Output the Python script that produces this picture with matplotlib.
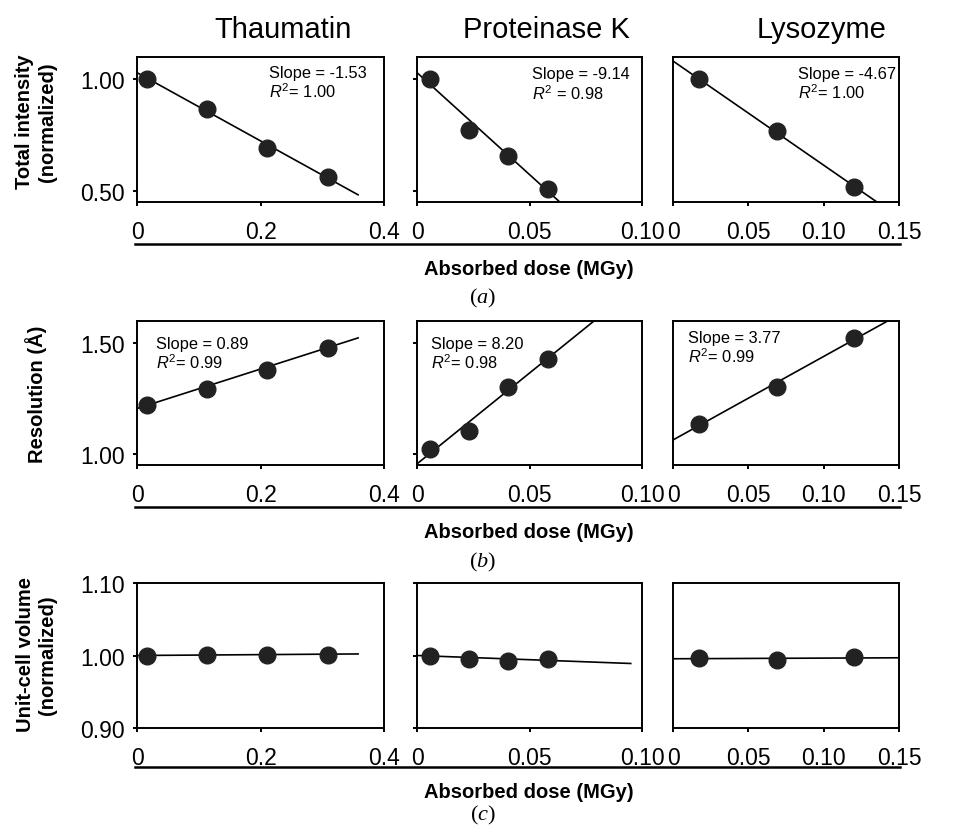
import matplotlib
matplotlib.use('Agg')
import matplotlib.pyplot as plt
from matplotlib.lines import Line2D
from matplotlib.ticker import FormatStrFormatter

plt.rcParams['font.family'] = ['Liberation Sans', 'DejaVu Sans']
plt.rcParams['mathtext.fontset'] = 'custom'
plt.rcParams['mathtext.rm'] = 'Liberation Sans'
plt.rcParams['mathtext.it'] = 'Liberation Sans:italic'
plt.rcParams['mathtext.sf'] = 'Liberation Serif:italic'

# data
proteins = ['Thaumatin', 'Proteinase K', 'Lysozyme']

dose_thaumatin = [0.016, 0.114, 0.211, 0.309]
dose_protk = [0.0058, 0.0232, 0.0406, 0.0584]
dose_lysozyme = [0.0173, 0.0688, 0.1203]

intensity_thaumatin = [1.00, 0.865, 0.692, 0.560]
intensity_protk = [1.00, 0.775, 0.658, 0.509]
intensity_lysozyme = [1.00, 0.767, 0.519]

resolution_thaumatin = [1.219, 1.291, 1.380, 1.478]
resolution_protk = [1.022, 1.102, 1.300, 1.430]
resolution_lysozyme = [1.134, 1.303, 1.522]

volume_thaumatin = [1.000, 1.001, 1.001, 1.001]
volume_protk = [1.000, 0.9945, 0.992, 0.9955]
volume_lysozyme = [0.9964, 0.9936, 0.9978]

# linear fits
intensity_slope = [-1.53, -9.14, -4.67]
intensity_icpt = [1.03, 1.03, 1.082]
intensity_r2 = ['1.00', '0.98', '1.00']

resolution_slope = [0.89, 8.20, 3.77]
resolution_icpt = [1.205, 0.955, 1.063]
resolution_r2 = ['0.99', '0.98', '0.99']

volume_slope = [0.006, -0.116, 0.009]
volume_icpt = [1.000, 1.000, 0.9955]

fit_end = [0.358, 0.095, 0.15]

xticks = [[0, 0.2, 0.4], [0, 0.05, 0.10], [0, 0.05, 0.10, 0.15]]
xticklabels = [['0', '0.2', '0.4'], ['0', '0.05', '0.10'], ['0', '0.05', '0.10', '0.15']]
xmax = [0.4, 0.10, 0.15]

doses = [dose_thaumatin, dose_protk, dose_lysozyme]
rows = [
  dict(y=[intensity_thaumatin, intensity_protk, intensity_lysozyme],
       slope=intensity_slope, icpt=intensity_icpt, r2=intensity_r2,
       ylim=(0.45, 1.10), yticks=[0.50, 1.00],
       ylabel='Total intensity\n(normalized)', tag='a'),
  dict(y=[resolution_thaumatin, resolution_protk, resolution_lysozyme],
       slope=resolution_slope, icpt=resolution_icpt, r2=resolution_r2,
       ylim=(0.95, 1.60), yticks=[1.00, 1.50],
       ylabel='Resolution (Å)', tag='b'),
  dict(y=[volume_thaumatin, volume_protk, volume_lysozyme],
       slope=volume_slope, icpt=volume_icpt, r2=None,
       ylim=(0.90, 1.10), yticks=[0.90, 1.00, 1.10],
       ylabel='Unit-cell volume\n(normalized)', tag='c'),
]

W, H = 971, 829
fig = plt.figure(figsize=(W/100, H/100), dpi=100)

col_left = [137, 417, 673]
col_right = [384, 642, 899]
row_top = [58, 322, 584]
row_bot = [203, 466, 729]
# annotation positions (axes fraction) for rows a and b
note_pos = [[(0.534, 0.945), (0.51, 0.935), (0.552, 0.94)],
            [(0.077, 0.895), (0.062, 0.895), (0.068, 0.94)]]

for r, row in enumerate(rows):
  for c in range(3):
    l, rr = col_left[c], col_right[c]
    t, b = row_top[r], row_bot[r]
    ax = fig.add_axes([l/W, 1 - b/H, (rr - l)/W, (b - t)/H])
    x = doses[c]
    xf = [0, fit_end[c]]
    yf = [row['icpt'][c] + row['slope'][c]*v for v in xf]
    ax.plot(xf, yf, '-', color='k', lw=1.2, zorder=2)
    ax.plot(x, row['y'][c], 'o', color='#222222', ms=12, mec='#222222', zorder=3)
    ax.set_xlim(0, xmax[c])
    ax.set_ylim(*row['ylim'])
    ax.set_xticks(xticks[c])
    ax.set_xticklabels(xticklabels[c])
    for s in ax.spines.values():
      s.set_linewidth(1.4)
    ax.tick_params(axis='x', direction='out', length=3, width=1.4, pad=10, labelsize=16.5)
    if c == 0:
      ax.set_yticks(row['yticks'])
      ax.yaxis.set_major_formatter(FormatStrFormatter('%.2f'))
      ax.tick_params(axis='y', direction='out', length=3, width=1.4, pad=6, labelsize=16.5)
    elif c == 1:
      ax.set_yticks(row['yticks'])
      ax.set_yticklabels([])
      ax.tick_params(axis='y', direction='out', length=3, width=1.4)
    else:
      ax.set_yticks([])
    if row['r2'] is not None:
      px, py = note_pos[r][c]
      sl = row['slope'][c]
      ax.text(px, py, 'Slope = %.2f' % sl, transform=ax.transAxes,
              fontsize=11.8, va='top', ha='left')
      sep = ' ' if (r == 0 and c == 1) else ''
      ax.text(px, py - 0.115, r'$R^2$' + sep + '= ' + row['r2'][c],
              transform=ax.transAxes, fontsize=11.8, va='top', ha='left')

  # rule under the tick labels, x label and panel tag
  yl = [245, 508, 768][r]
  fig.add_artist(Line2D([135/W, 900/W], [1 - yl/H, 1 - yl/H], color='k', lw=1.8))
  fig.text(529/W, 1 - [270, 533, 793][r]/H, 'Absorbed dose (MGy)',
           fontsize=14.5, fontweight='bold', ha='center', va='center')
  fig.text(483/W, 1 - [298, 562, 815][r]/H, '($\\mathsf{%s}$)' % row['tag'],
           fontsize=16, family='Liberation Serif', ha='center', va='center')
  fig.text(36/W, 1 - [122, 394, 655][r]/H, row['ylabel'], rotation=90,
           fontsize=14.5, fontweight='bold', ha='center', va='center',
           multialignment='center')

for name, xc in zip(proteins, [283, 546, 822]):
  fig.text(xc/W, 1 - 30/H, name, fontsize=21, ha='center', va='center')

fig.savefig('out.png', dpi=100)
